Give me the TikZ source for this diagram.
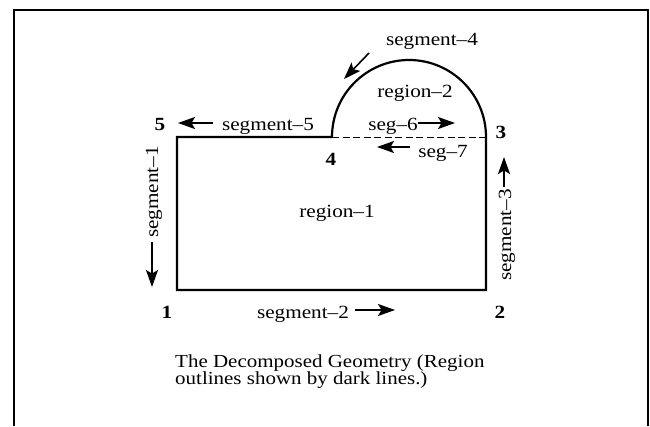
\documentclass[tikz,border=0pt]{standalone}
\usepackage{fontspec}
\setmainfont{Liberation Serif}[FakeStretch=1.14]
\usetikzlibrary{arrows.meta}
\begin{document}
\begin{tikzpicture}[x=1pt,y=-1pt,
  lbl/.style={font=\fontsize{18.6}{17}\selectfont, inner sep=0pt, anchor=base},
  num/.style={lbl, font=\fontsize{18.6}{17}\selectfont\bfseries},
  caption/.style={font=\fontsize{18.4}{17}\selectfont, inner sep=0pt, anchor=base west},
  outline/.style={line width=2.2pt, line join=miter},
  boundary/.style={line width=1pt, dash pattern=on 7pt off 3.5pt},
  framestyle/.style={line width=1.8pt},
  arr/.style={line width=1.6pt, -{Stealth[length=17pt,width=12pt,inset=3.5pt]}},
]
\useasboundingbox (0,0) rectangle (650,426);
\draw[framestyle] (14,426) -- (14,10) -- (648,10) -- (648,426);

% geometry vertices
\coordinate (p1) at (177,290);
\coordinate (p2) at (486,290);
\coordinate (p3) at (486,137);
\coordinate (p4) at (332,137);
\coordinate (p5) at (177,137);

\draw[outline] (p4) -- (p5) -- (p1) -- (p2) -- (p3)
  arc[start angle=0, end angle=-180, radius=77];
\draw[boundary] (p4) -- (p3);

% vertex numbers
\node[num] (n1) at (167,318) {1};
\node[num] (n2) at (500,318) {2};
\node[num] (n3) at (501,138) {3};
\node[num] (n4) at (331,165) {4};
\node[num] (n5) at (160,130) {5};

% labels
\node[lbl] (s4) at (432,45) {segment--4};
\node[lbl] (r2) at (415,97) {region--2};
\node[lbl] (s5) at (268,130) {segment--5};
\node[lbl] (s6) at (393,130) {seg--6};
\node[lbl] (s7) at (443,157) {seg--7};
\node[lbl] (r1) at (337,217) {region--1};
\node[lbl] (s2) at (303,318) {segment--2};
\node[lbl, rotate=90] (s1) at (158,192) {segment--1};
\node[lbl, rotate=90] (s3) at (511,235) {segment--3};

% direction arrows
\coordinate (a4s) at (369,53);  \coordinate (a4e) at (344,79);
\coordinate (a5s) at (213,123); \coordinate (a5e) at (178,123);
\coordinate (a6s) at (418,123); \coordinate (a6e) at (455,123);
\coordinate (a7s) at (410,147); \coordinate (a7e) at (377,147);
\coordinate (a2s) at (355,310); \coordinate (a2e) at (395,310);
\coordinate (a1s) at (152,242); \coordinate (a1e) at (152,287);
\coordinate (a3s) at (504,187); \coordinate (a3e) at (504,157);
\draw[arr] (a4s) -- (a4e);
\draw[arr] (a5s) -- (a5e);
\draw[arr] (a6s) -- (a6e);
\draw[arr] (a7s) -- (a7e);
\draw[arr] (a2s) -- (a2e);
\draw[arr] (a1s) -- (a1e);
\draw[arr] (a3s) -- (a3e);

% caption
\node[caption] (cap1) at (175,367.7) {The Decomposed Geometry (Region};
\node[caption] (cap2) at (175,384.4) {outlines shown by dark lines.)};
\end{tikzpicture}
\end{document}
